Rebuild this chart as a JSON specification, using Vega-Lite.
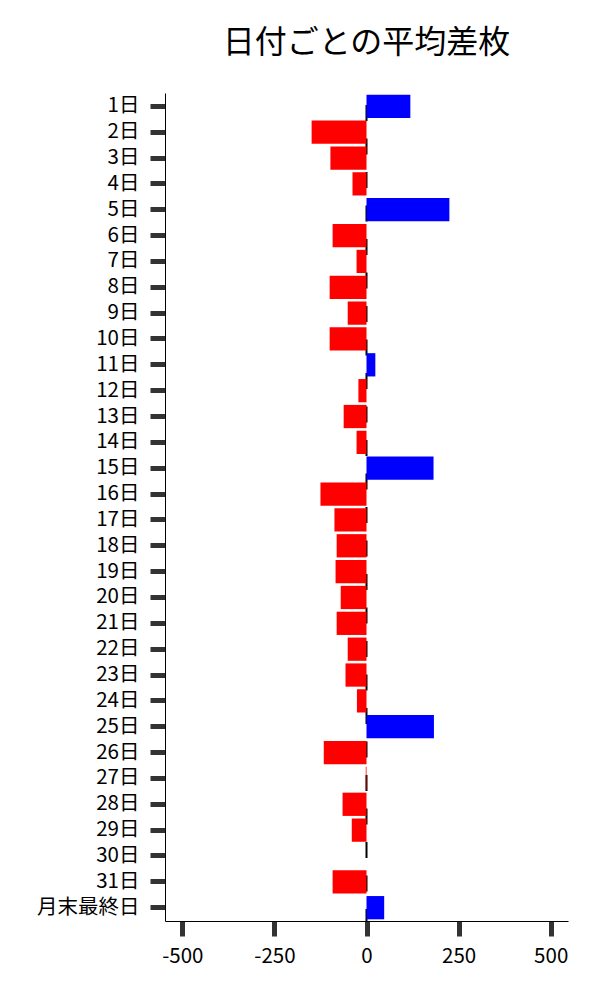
{
  "$schema": "https://vega.github.io/schema/vega-lite/v6.json",
  "width": 403,
  "height": 828,
  "autosize": "none",
  "padding": {"left": 165, "top": 93, "right": 32, "bottom": 79},
  "background": "white",
  "title": {
    "text": "日付ごとの平均差枚",
    "font": "Noto Sans CJK JP",
    "fontSize": 32,
    "fontWeight": "normal",
    "color": "#000000",
    "anchor": "middle",
    "offset": 32
  },
  "config": {
    "view": {"stroke": null},
    "axis": {
      "labelFont": "Noto Sans CJK JP",
      "labelFontSize": 20.5,
      "labelColor": "#000000",
      "domainColor": "#000000",
      "domainWidth": 1,
      "tickColor": "#333333",
      "tickWidth": 5,
      "tickSize": 15,
      "grid": false,
      "title": null
    }
  },
  "layer": [
    {
      "data": {"values": [{"x": 0}]},
      "mark": {"type": "rule", "color": "#000000", "strokeWidth": 2, "strokeDash": [16, 17.5], "strokeDashOffset": 21.5},
      "encoding": {
        "x": {"field": "x", "type": "quantitative"}
      }
    },
    {
      "data": {
        "values": [
          {"day": "1日", "v": 119},
          {"day": "2日", "v": -149},
          {"day": "3日", "v": -98},
          {"day": "4日", "v": -38},
          {"day": "5日", "v": 225},
          {"day": "6日", "v": -92},
          {"day": "7日", "v": -27},
          {"day": "8日", "v": -100},
          {"day": "9日", "v": -51},
          {"day": "10日", "v": -100},
          {"day": "11日", "v": 24},
          {"day": "12日", "v": -22},
          {"day": "13日", "v": -62},
          {"day": "14日", "v": -27},
          {"day": "15日", "v": 182},
          {"day": "16日", "v": -125},
          {"day": "17日", "v": -87},
          {"day": "18日", "v": -81},
          {"day": "19日", "v": -84},
          {"day": "20日", "v": -70},
          {"day": "21日", "v": -81},
          {"day": "22日", "v": -51},
          {"day": "23日", "v": -57},
          {"day": "24日", "v": -26},
          {"day": "25日", "v": 183},
          {"day": "26日", "v": -116},
          {"day": "27日", "v": -2},
          {"day": "28日", "v": -65},
          {"day": "29日", "v": -40},
          {"day": "30日", "v": 0},
          {"day": "31日", "v": -92},
          {"day": "月末最終日", "v": 48}
        ]
      },
      "mark": {"type": "bar"},
      "encoding": {
        "y": {
          "field": "day",
          "type": "nominal",
          "sort": null,
          "scale": {"paddingInner": 0.1, "paddingOuter": 0.065},
          "axis": {"labelPadding": 11}
        },
        "x": {
          "field": "v",
          "type": "quantitative",
          "scale": {"domain": [-547, 547], "nice": false, "zero": false},
          "axis": {"values": [-500, -250, 0, 250, 500], "labelPadding": 10, "labelFlush": false, "labelExpr": "'' + datum.value"}
        },
        "color": {
          "condition": {"test": "datum.v > 0", "value": "#0000ff"},
          "value": "#ff0000"
        }
      }
    }
  ]
}
